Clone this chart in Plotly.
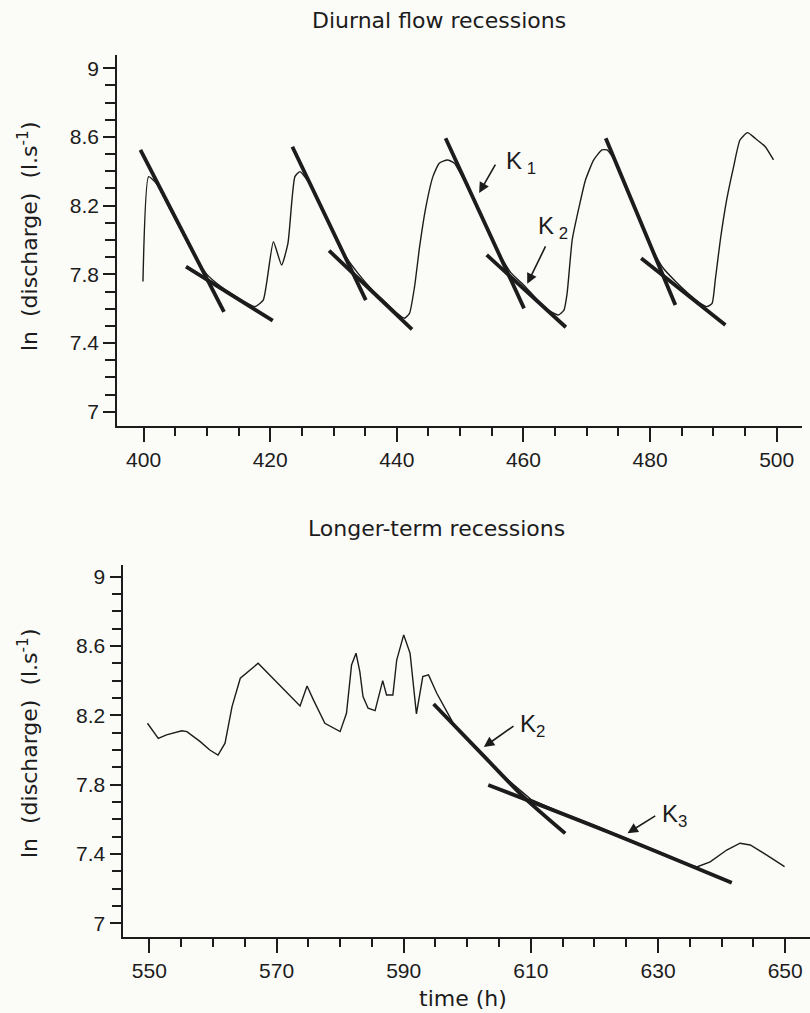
import plotly.graph_objects as go

# ---------------- data ----------------
# Top panel: diurnal flow recessions, observed ln(discharge)
diurnal_time = [399.9, 400.8, 402, 404, 406, 408, 410, 412, 414, 416, 417.6, 418.9,
                420.5, 421.8, 422.8, 423.9, 424.7, 426, 428, 430, 432, 434, 436, 438,
                440, 441.2, 442.0, 442.8, 443.6, 444.6, 445.7, 446.7, 448.0, 449.1,
                450, 452, 454, 456, 458, 460, 462, 464, 465.5, 466.4, 466.9, 467.7,
                468.8, 469.8, 471.1, 472.4, 473.2, 474.5, 476, 478, 480, 482, 484,
                486, 488, 489.0, 489.8, 490.3, 491.1, 492.1, 493.2, 494.2, 495.4,
                496.6, 498.2, 499.5]
diurnal_lnq = [7.758, 8.369, 8.33, 8.19, 8.05, 7.91, 7.80, 7.735, 7.685, 7.64, 7.612, 7.65,
               7.99, 7.854, 7.98, 8.369, 8.398, 8.34, 8.19, 8.04, 7.90, 7.80, 7.715, 7.645,
               7.575, 7.544, 7.573, 7.728, 7.961, 8.194, 8.369, 8.447, 8.466, 8.447,
               8.39, 8.245, 8.09, 7.93, 7.81, 7.74, 7.66, 7.59, 7.563, 7.592, 7.69, 8.0,
               8.194, 8.349, 8.466, 8.524, 8.524, 8.46, 8.32, 8.15, 7.975, 7.84, 7.76,
               7.69, 7.63, 7.612, 7.631, 7.767, 8.0, 8.233, 8.427, 8.582, 8.625,
               8.592, 8.543, 8.466]

# K1 recession lines (start / end)
k1_t0 = [399.5, 423.5, 447.7, 473.0]
k1_q0 = [8.524, 8.543, 8.592, 8.592]
k1_t1 = [412.7, 435.1, 460.1, 484.0]
k1_q1 = [7.582, 7.650, 7.602, 7.621]
# K2 recession lines (start / end)
k2_t0 = [406.7, 429.3, 454.2, 478.6]
k2_q0 = [7.845, 7.938, 7.913, 7.893]
k2_t1 = [420.4, 442.4, 466.7, 491.9]
k2_q1 = [7.530, 7.480, 7.492, 7.505]

# Bottom panel: longer-term recessions
long_time = [549.7, 551.4, 552.7, 555.1, 555.9, 558.0, 559.5, 560.8, 561.9, 563.0, 564.3,
             565.6, 567.1, 573.7, 574.8, 575.8, 577.6, 580.0, 581.0, 581.8, 582.5, 583.1,
             583.6, 584.4, 585.5, 586.7, 587.3, 588.3, 588.9, 590.0, 591.0, 592.0, 593.0,
             593.9, 595.2, 598, 602, 606, 610, 615, 620, 625, 630, 634, 636.1, 638.2,
             640.8, 642.9, 644.5, 647.1, 649.9]
long_lnq = [8.154, 8.067, 8.087, 8.111, 8.106, 8.048, 8.0, 7.971, 8.039, 8.25, 8.414,
            8.452, 8.50, 8.254, 8.369, 8.289, 8.154, 8.106, 8.212, 8.49, 8.558, 8.452,
            8.308, 8.241, 8.227, 8.40, 8.317, 8.317, 8.519, 8.664, 8.558, 8.208, 8.423,
            8.433, 8.327, 8.14, 7.99, 7.84, 7.715, 7.635, 7.565, 7.49, 7.415, 7.35, 7.325,
            7.355, 7.423, 7.462, 7.452, 7.394, 7.327]

long_k2_time = [594.7, 602.5, 608.8, 615.4]
long_k2_lnq = [8.265, 7.969, 7.731, 7.519]
long_k3_time = [603.3, 622.0, 641.6]
long_k3_lnq = [7.798, 7.530, 7.234]

titles = ["Diurnal flow recessions", "Longer-term recessions"]
ylabel = "ln&nbsp; (discharge)&nbsp; (l.s<sup>-1</sup>)"
xlabel = "time (h)"

# ---------------- figure ----------------
INK = "#1c1c1c"
BG = "#fbfbf8"
TXT_FONT = "DejaVu Sans"
TICK_FONT = "Liberation Sans, Arial"


def segs(t0, q0, t1, q1):
    xs, ys = [], []
    for a, b, c, d in zip(t0, q0, t1, q1):
        xs += [a, c, None]
        ys += [b, d, None]
    return xs, ys


fig = go.Figure()
fig.add_trace(go.Scatter(x=diurnal_time, y=diurnal_lnq, mode="lines",
                         line=dict(color=INK, width=1.4, shape="spline", smoothing=0.5),
                         xaxis="x", yaxis="y"))
kx, ky = segs(k1_t0, k1_q0, k1_t1, k1_q1)
fig.add_trace(go.Scatter(x=kx, y=ky, mode="lines", line=dict(color=INK, width=3.8),
                         xaxis="x", yaxis="y"))
kx, ky = segs(k2_t0, k2_q0, k2_t1, k2_q1)
fig.add_trace(go.Scatter(x=kx, y=ky, mode="lines", line=dict(color=INK, width=3.8),
                         xaxis="x", yaxis="y"))

fig.add_trace(go.Scatter(x=long_time, y=long_lnq, mode="lines",
                         line=dict(color=INK, width=1.4), xaxis="x2", yaxis="y2"))
fig.add_trace(go.Scatter(x=long_k2_time, y=long_k2_lnq, mode="lines",
                         line=dict(color=INK, width=3.8, shape="spline", smoothing=0.8),
                         xaxis="x2", yaxis="y2"))
fig.add_trace(go.Scatter(x=long_k3_time, y=long_k3_lnq, mode="lines",
                         line=dict(color=INK, width=3.8, shape="spline", smoothing=1.0),
                         xaxis="x2", yaxis="y2"))


def xax(domain, rng, tick0, anchor):
    return dict(domain=domain, range=rng, anchor=anchor, showgrid=False, zeroline=False,
                showline=True, linecolor=INK, linewidth=1.6,
                tickmode="linear", tick0=tick0, dtick=20,
                ticks="outside", ticklen=14, tickwidth=1.6, tickcolor=INK,
                tickfont=dict(family=TICK_FONT, size=21, color=INK),
                minor=dict(tickmode="linear", tick0=tick0, dtick=5, ticks="outside",
                           ticklen=8, tickwidth=1.6, tickcolor=INK, showgrid=False),
                automargin=False, fixedrange=True)


def yax(domain, rng, anchor):
    return dict(domain=domain, range=rng, anchor=anchor, showgrid=False, zeroline=False,
                showline=True, linecolor=INK, linewidth=1.6,
                tickmode="linear", tick0=7, dtick=0.4,
                ticks="outside", ticklen=12, tickwidth=1.6, tickcolor=INK,
                tickfont=dict(family=TICK_FONT, size=21, color=INK),
                minor=dict(tickmode="linear", tick0=7, dtick=0.1, ticks="outside",
                           ticklen=10, tickwidth=1.6, tickcolor=INK, showgrid=False),
                automargin=False, fixedrange=True)


W, H = 810, 1013
fig.update_layout(
    width=W, height=H, autosize=False,
    margin=dict(l=0, r=0, t=0, b=0),
    paper_bgcolor=BG, plot_bgcolor=BG, showlegend=False,
    xaxis=xax([117 / W, 802 / W], [395.8, 504.0], 400, "y"),
    yaxis=yax([1 - 426 / H, 1 - 55 / H], [6.917, 9.077], "x"),
    xaxis2=xax([123.3 / W, 1.0], [545.9, 653.9], 550, "y2"),
    yaxis2=yax([1 - 936.7 / H, 1 - 565 / H], [6.923, 9.067], "x2"),
)

ann = []
# panel titles
ann.append(dict(text=titles[0], x=439 / W, y=1 - 21 / H, xref="paper", yref="paper",
                showarrow=False, font=dict(family=TXT_FONT, size=22, color=INK),
                xanchor="center", yanchor="middle"))
ann.append(dict(text=titles[1], x=436 / W, y=1 - 528 / H, xref="paper", yref="paper",
                showarrow=False, font=dict(family=TXT_FONT, size=22, color=INK),
                xanchor="center", yanchor="middle"))
# y labels
for yc in (236, 743):
    ann.append(dict(text=ylabel, x=28 / W, y=1 - yc / H, xref="paper", yref="paper",
                    showarrow=False, textangle=-90,
                    font=dict(family=TXT_FONT, size=22, color=INK),
                    xanchor="center", yanchor="middle"))
# x label
ann.append(dict(text=xlabel, x=463 / W, y=1 - 998 / H, xref="paper", yref="paper",
                showarrow=False, font=dict(family=TXT_FONT, size=22, color=INK),
                xanchor="center", yanchor="middle"))

# K labels
KFONT = dict(family=TICK_FONT, size=24, color=INK)
klabels = [("K<sub> 1</sub>", 457.0, 8.45, "x", "y"),
           ("K<sub> 2</sub>", 462.0, 8.07, "x", "y"),
           ("K<sub>2</sub>", 608.0, 8.14, "x2", "y2"),
           ("K<sub>3</sub>", 630.3, 7.62, "x2", "y2")]
for t, x, y, xr, yr in klabels:
    ann.append(dict(text=t, x=x, y=y, xref=xr, yref=yr, showarrow=False,
                    font=KFONT, xanchor="left", yanchor="middle"))

# arrows (tail -> head)
arrows = [((455.7, 8.448), (453.0, 8.274), "x", "y"),
          ((463.6, 7.971), (460.6, 7.745), "x", "y"),
          ((607.5, 8.144), (602.6, 8.017), "x2", "y2"),
          ((629.8, 7.625), (625.2, 7.52), "x2", "y2")]
for (tx, ty), (hx, hy), xr, yr in arrows:
    ann.append(dict(x=hx, y=hy, ax=tx, ay=ty, xref=xr, yref=yr, axref=xr, ayref=yr,
                    text="", showarrow=True, arrowhead=2, arrowsize=1.3,
                    arrowwidth=1.6, arrowcolor=INK, standoff=0, startstandoff=0))

fig.update_layout(annotations=ann)
fig.write_html("out.html")
